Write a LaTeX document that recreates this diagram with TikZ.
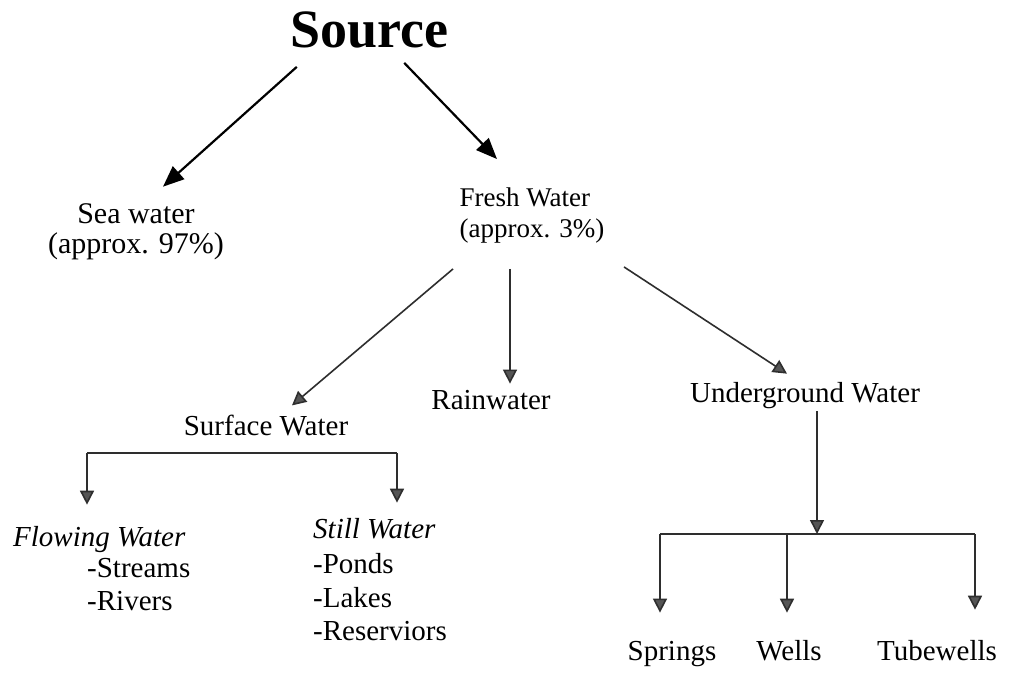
\documentclass[tikz,border=0pt]{standalone}
\usepackage{fontspec}
\setmainfont{Liberation Serif}
\usetikzlibrary{arrows.meta}

\definecolor{linegray}{HTML}{2E2E2E}
\definecolor{tipgray}{HTML}{555555}

\begin{document}
\begin{tikzpicture}[x=1pt, y=-1pt,
    lbl/.style={inner sep=0pt, font=\fontsize{29}{31}\selectfont},
    title/.style={inner sep=0pt, font=\fontsize{54}{60}\selectfont\bfseries},
    mainarrow/.style={line width=2.2pt, -{Triangle[length=21pt,width=17pt]}},
    subarrow/.style={line width=1.6pt, draw=linegray, -{Triangle[length=14pt,width=14pt,fill=tipgray]}},
    barline/.style={line width=1.6pt, draw=linegray}]
  \useasboundingbox[fill=white] (0,0) rectangle (1017,677);

  % --- origem ---
  \node[title, anchor=base] (source) at (369,48) {Source};

  % --- primeiro nivel ---
  \node[lbl, align=center, font=\fontsize{30}{30}\selectfont] (sea) at (136,232) {Sea water\\(approx. 97\%)};
  \node[lbl, align=left, font=\fontsize{27}{31}\selectfont] (fresh) at (532,216) {Fresh Water\\(approx. 3\%)};

  % --- agua doce ---
  \node[lbl, anchor=base] (surface) at (266,435) {Surface Water};
  \node[lbl, anchor=base] (rain) at (491,409) {Rainwater};
  \node[lbl, anchor=base] (under) at (805,402) {Underground Water};

  % --- agua de superficie ---
  \node[lbl, anchor=base west, font=\fontsize{29}{31}\selectfont\itshape] (flowing) at (13,546) {Flowing Water};
  \foreach \nm/\txt/\yy in {streams/-Streams/577, rivers/-Rivers/610}
    \node[lbl, anchor=base west] (\nm) at (87,\yy) {\txt};
  \node[lbl, anchor=base west, font=\fontsize{29}{31}\selectfont\itshape] (still) at (313,538) {Still Water};
  \foreach \nm/\txt/\yy in {ponds/-Ponds/573, lakes/-Lakes/607, reserv/-Reserviors/640}
    \node[lbl, anchor=base west] (\nm) at (313,\yy) {\txt};

  % --- agua subterranea ---
  \node[lbl, anchor=base] (springs) at (672,660) {Springs};
  \node[lbl, anchor=base] (wells) at (789,660) {Wells};
  \node[lbl, anchor=base] (tube) at (937,660) {Tubewells};

  % setas principais
  \draw[mainarrow] ([shift={(7,18)}]source.south west) -- ([shift={(27,-17)}]sea.north);
  \draw[mainarrow] ([shift={(-44,14)}]source.south east) -- ([shift={(-35,-29)}]fresh.north);

  % setas da agua doce
  \draw[subarrow] ([shift={(-79,25)}]fresh.south) -- ([shift={(26,-9)}]surface.north);
  \draw[subarrow, shorten >=6pt] ([shift={(-22,25)}]fresh.south) coordinate (rtop) -- (rtop |- rain.north);
  \draw[subarrow] ([shift={(92,23)}]fresh.south) -- ([shift={(-18,-8)}]under.north);

  % chave da agua de superficie
  \coordinate (sl) at (87,453);
  \coordinate (sr) at (397,453);
  \draw[barline] (sl) -- (sr);
  \draw[subarrow, shorten >=21pt] (sl) -- (sl |- flowing.north);
  \draw[subarrow, shorten >=15pt] (sr) -- (sr |- still.north);

  % chave da agua subterranea
  \coordinate (ubar) at (817,534);
  \coordinate (ul) at (660,534);
  \coordinate (um) at (787,534);
  \coordinate (ur) at (975,534);
  \draw[subarrow] ([yshift=-3pt]ubar |- under.south) -- (ubar);
  \draw[barline] (ul) -- (ur);
  \draw[subarrow, shorten >=28pt] (ul) -- (ul |- springs.north);
  \draw[subarrow, shorten >=27pt] (um) -- (um |- wells.north);
  \draw[subarrow, shorten >=30pt] (ur) -- (ur |- tube.north);
\end{tikzpicture}
\end{document}
